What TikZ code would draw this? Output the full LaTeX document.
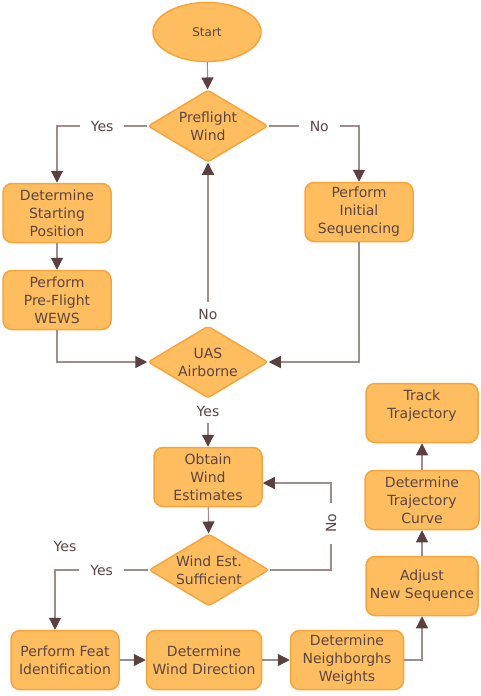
\documentclass[tikz,border=0pt]{standalone}
\usepackage{fontspec}
\setmainfont{DejaVu Sans}
\usetikzlibrary{shapes.geometric, arrows.meta}
\definecolor{boxfill}{HTML}{FEBE5F}
\definecolor{boxline}{HTML}{F9A33C}
\definecolor{txt}{HTML}{5C4444}
\definecolor{conline}{HTML}{A08C8C}
\definecolor{tipc}{HTML}{5C4040}

\begin{document}
\begin{tikzpicture}[x=1pt, y=-1pt,
    every node/.style={text=txt, font=\fontsize{14}{18}\selectfont, align=center},
    term/.style={ellipse, draw=boxline, fill=boxfill, line width=1.5pt, minimum width=108pt, minimum height=59pt, inner sep=0pt},
    blk/.style={draw=boxline, fill=boxfill, line width=1.5pt, rounded corners=9pt, minimum width=108pt, minimum height=59pt, inner sep=0pt},
    dec/.style={diamond, aspect=1.667, draw=boxline, fill=boxfill, line width=1.5pt, rounded corners=3pt, minimum width=120pt, minimum height=72pt, inner sep=0pt},
    conn/.style={draw=conline, line width=1.2pt, -{Triangle[length=12pt, width=12pt, color=tipc]}},
    lbl/.style={fill=white, inner xsep=11pt, inner ysep=7pt}]
        \useasboundingbox (0,0) rectangle (480,696);
        % upper part
        \node[term, font=\fontsize{12}{15}\selectfont] (start) at (207,32) {Start};
        \node[dec] (pfw) at (208,126) {Preflight\\Wind};
        \node[blk] (dsp) at (57,213) {Determine\\Starting\\Position};
        \node[blk] (pis) at (359,212) {Perform\\Initial\\Sequencing};
        \node[blk] (wews) at (57,300) {Perform\\Pre-Flight\\WEWS};
        \node[dec] (uas) at (208,362) {UAS\\Airborne};
        % lower part
        \node[blk] (owe) at (208,477) {Obtain\\Wind\\Estimates};
        \node[dec] (wes) at (209,570) {Wind Est.\\Sufficient};
        \node[blk] (pfi) at (65,660) {Perform Feat\\Identification};
        \node[blk, minimum width=115pt] (dwd) at (204,660) {Determine\\Wind Direction};
        \node[blk, minimum width=113pt] (dnw) at (347,660) {Determine\\Neighborghs\\Weights};
        \node[blk, minimum width=112pt] (ans) at (422,586) {Adjust\\New Sequence};
        \node[blk, minimum width=114pt] (dtc) at (422,500) {Determine\\Trajectory\\Curve};
        \node[blk, minimum width=112pt] (trk) at (422,413) {Track\\Trajectory\\\mbox{}};
        \node (yestwo) at (65,546) {Yes};
        \coordinate (back) at (331,483);

        \draw[conn] (start) -- (pfw);
        \draw[conn] (pfw.west) -| node[lbl, pos=0.25]{Yes} (dsp.north);
        \draw[conn] (pfw.east) -| node[lbl, pos=0.28]{No} (pis.north);
        \draw[conn] (dsp) -- (wews);
        \draw[conn] (wews.south) |- (uas.west);
        \draw[conn] (pis.south) |- (uas.east);
        \draw[conn] (uas.north) -- node[lbl, pos=0.065]{No} (pfw.south);
        \draw[conn] (uas.south) -- node[lbl, pos=0.26]{Yes} (owe.north);
        \draw[conn] (owe) -- (wes);
        \draw[conn] (wes.east) -| node[lbl, rotate=90, pos=0.77]{No} (back) -- (back -| owe.east);
        \draw[conn] (wes.west) -| node[lbl, pos=0.25]{Yes} ([xshift=-10pt]pfi.north);
        \draw[conn] (pfi) -- (dwd);
        \draw[conn] (dwd) -- (dnw);
        \draw[conn] (dnw.east) -| (ans.south);
        \draw[conn] (ans) -- (dtc);
        \draw[conn] (dtc) -- (trk);
\end{tikzpicture}
\end{document}
